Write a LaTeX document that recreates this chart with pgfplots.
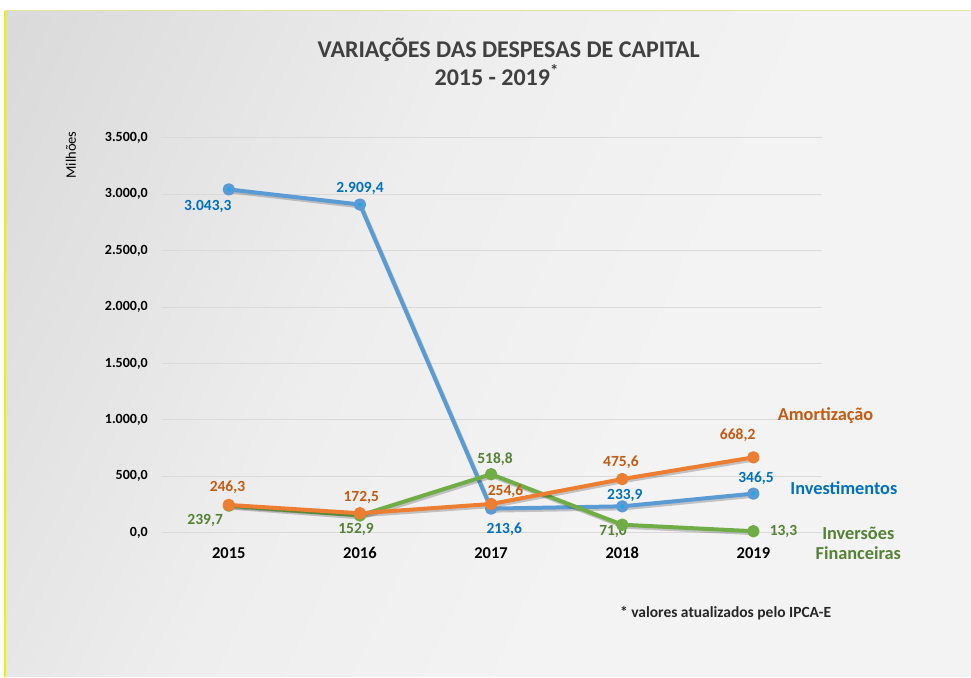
\documentclass[border=0pt]{standalone}
\usepackage{fontspec}
\setmainfont{Carlito}
\usepackage{pgfplots}
\usepackage{pgfplotstable}
\pgfplotsset{compat=1.18}

\definecolor{invline}{HTML}{5B9BD5}
\definecolor{invmark}{HTML}{1AA7EC}
\definecolor{invtxt}{HTML}{0070C0}
\definecolor{amoline}{HTML}{ED7D31}
\definecolor{amotxt}{HTML}{C55A11}
\definecolor{finline}{HTML}{70AD47}
\definecolor{fintxt}{HTML}{548235}
\definecolor{titletxt}{HTML}{404040}
\definecolor{gridc}{HTML}{D9D9D9}
\definecolor{frameyel}{HTML}{F2F000}
\definecolor{frametop}{HTML}{E2E69A}
\definecolor{bgA}{HTML}{DCDCDC}
\definecolor{bgB}{HTML}{D7D7D7}
\definecolor{bgC}{HTML}{EEEEEE}
\definecolor{bgD}{HTML}{F3F3F3}

\pgfdeclarehorizontalshading{chartbg}{100bp}{color(0bp)=(bgA); color(14bp)=(bgB); color(42bp)=(bgC); color(60bp)=(bgD); color(100bp)=(bgD)}

% year index, value (millions)
\pgfplotstableread{
x y
0 3043.3
1 2909.4
2 213.6
3 233.9
4 346.5
}\investimentos
\pgfplotstableread{
x y
0 239.7
1 152.9
2 518.8
3 71.0
4 13.3
}\inversoes
\pgfplotstableread{
x y
0 246.3
1 172.5
2 254.6
3 475.6
4 668.2
}\amortizacao

\tikzset{
  lbl/.style={font=\fontsize{15.5pt}{18pt}\selectfont\bfseries, inner sep=0pt},
  serie/.style={font=\fontsize{18.3pt}{20pt}\selectfont\bfseries, inner sep=0pt, align=center},
}
\pgfplotsset{
  sombra/.style={black, opacity=0.2, line width=4pt, forget plot, no markers,
    transform canvas={xshift=1.5pt,yshift=-2pt}},
  serieline/.style={#1, line width=4pt, mark=*, mark size=4.2pt},
}

\begin{document}
\begin{tikzpicture}
% page: 1px = 1pt, axis box lower left at (0,0)
\fill[white] (-162pt,-144pt) rectangle (809pt,533pt);
\shade[shading=chartbg, shading angle=-25] (-157pt,-144pt) rectangle (809pt,522pt);
\draw[frametop, line width=1pt] (-157pt,522pt) -- (809pt,522pt);
\draw[frameyel, line width=1.5pt] (-157pt,-144pt) -- (-157pt,522pt);
\useasboundingbox (-162pt,-144pt) rectangle (809pt,533pt);

\begin{axis}[
    at={(0,0)}, anchor=south west,
    scale only axis,
    width=660pt, height=395pt,
    xmin=-0.51, xmax=4.52,
    ymin=0, ymax=3500,
    xtick={0,1,2,3,4},
    xticklabels={2015,2016,2017,2018,2019},
    ytick={0,500,...,3500},
    axis line style={draw=none},
    major tick length=0pt,
    ymajorgrids,
    grid style={gridc, line width=1pt},
    clip=false,
    xticklabel style={font=\fontsize{16.5pt}{18pt}\selectfont\bfseries, anchor=base, yshift=-26pt},
    yticklabel style={font=\fontsize{14pt}{16pt}\selectfont\bfseries, anchor=east, inner sep=0pt, xshift=-14pt,
      /pgf/number format/.cd, fixed, fixed zerofill, precision=1, use comma, 1000 sep={.}},
    /pgf/number format/assume math mode=true,
    line join=round,
]
\addplot[sombra] table {\investimentos};
\addplot[serieline=invline, mark options={solid, fill=invmark, draw=none}] table {\investimentos};
\addplot[sombra] table {\inversoes};
\addplot[serieline=finline, mark options={solid, fill=finline, draw=none}] table {\inversoes};
\addplot[sombra] table {\amortizacao};
\addplot[serieline=amoline, mark options={solid, fill=amoline, draw=none}] table {\amortizacao};

% data labels
\node[lbl, text=invtxt] at (axis cs:-0.16,2893) {3.043,3};
\node[lbl, text=invtxt] at (axis cs:1.00,3048) {2.909,4};
\node[lbl, text=invtxt] at (axis cs:2.10,35) {213,6};
\node[lbl, text=invtxt] at (axis cs:3.02,328) {233,9};
\node[lbl, text=invtxt] at (axis cs:4.02,487) {346,5};

\node[lbl, text=amotxt] at (axis cs:-0.01,399) {246,3};
\node[lbl, text=amotxt] at (axis cs:1.01,310) {172,5};
\node[lbl, text=amotxt] at (axis cs:2.11,372) {254,6};
\node[lbl, text=amotxt] at (axis cs:2.99,629) {475,6};
\node[lbl, text=amotxt] at (axis cs:3.88,868) {668,2};

\node[lbl, text=fintxt] at (axis cs:-0.18,106) {239,7};
\node[lbl, text=fintxt] at (axis cs:0.97,27) {152,9};
\node[lbl, text=fintxt] at (axis cs:2.03,656) {518,8};
\node[lbl, text=fintxt] at (axis cs:2.93,9) {71,0};
\node[lbl, text=fintxt] at (axis cs:4.23,9) {13,3};

% series names
\node[serie, text=amotxt] at (axis cs:4.55,1037) {Amortização};
\node[serie, text=invtxt] at (axis cs:4.69,399) {Investimentos};
\node[serie, text=fintxt] at (axis cs:4.80,-97) {Inversões\\Financeiras};
\end{axis}

% titles and notes
\node[font=\fontsize{24pt}{26pt}\selectfont\bfseries, text=titletxt] at (347pt,483pt) {VARIAÇÕES DAS DESPESAS DE CAPITAL};
\node[font=\fontsize{24pt}{26pt}\selectfont\bfseries, text=titletxt] at (335pt,458pt) {2015 - 2019\textsuperscript{*}};
\node[font=\fontsize{14.5pt}{16pt}\selectfont, rotate=90] at (-91pt,378pt) {Milhões};
\node[font=\fontsize{15.5pt}{18pt}\selectfont\bfseries, text=black!85] at (564pt,-80pt) {* valores atualizados pelo IPCA-E};
\end{tikzpicture}
\end{document}
